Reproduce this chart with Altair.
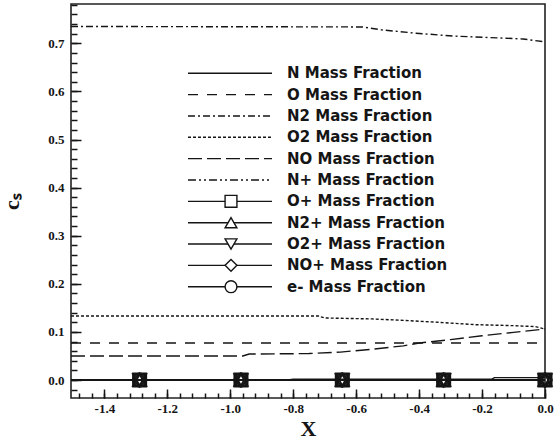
import altair as alt
import pandas as pd

# Axis ranges (data units)
X_DOMAIN = [-1.506, 0.0]
Y_DOMAIN = [-0.0374, 0.7817]

# Tick values
x_major = [-1.4, -1.2, -1.0, -0.8, -0.6, -0.4, -0.2, 0.0]
x_minor = [round(-1.48 + 0.04 * i, 2) for i in range(38)]
y_major = [0.0, 0.1, 0.2, 0.3, 0.4, 0.5, 0.6, 0.7]
y_minor = [round(-0.02 + 0.02 * i, 2) for i in range(41)]

# Species, in legend order
species = ["N", "O", "N2", "O2", "NO", "N+", "O+", "N2+", "O2+", "NO+", "e-"]
labels = [f"{s} Mass Fraction" for s in species]
dashes = [[1, 0], [10, 9], [7, 3, 2, 3], [3, 2], [14, 5], [8, 3, 2, 3, 2, 3],
          [1, 0], [1, 0], [1, 0], [1, 0], [1, 0]]
ions = ["O+", "N2+", "O2+", "NO+", "e-"]
ion_shapes = ["square", "triangle-up", "triangle-down", "diamond", "circle"]

# Mass fraction profiles along X
n_x = [-1.506, -0.82, -0.80, -0.17, -0.16, 0.0]
n_y = [0.0, 0.0, 0.0015, 0.0015, 0.005, 0.005]
o_x = [-1.506, 0.0]
o_y = [0.077, 0.077]
n2_x = [-1.506, -0.58, -0.52, -0.41, -0.29, -0.14, -0.07, 0.0]
n2_y = [0.735, 0.734, 0.728, 0.721, 0.715, 0.711, 0.709, 0.703]
o2_x = [-1.506, -0.72, -0.70, -0.55, -0.45, -0.34, -0.22, -0.10, -0.03, 0.0]
o2_y = [0.133, 0.133, 0.129, 0.127, 0.124, 0.120, 0.115, 0.113, 0.111, 0.106]
no_x = [-1.506, -0.96, -0.94, -0.75, -0.65, -0.55, -0.45, -0.40, -0.30, -0.20, -0.10, 0.0]
no_y = [0.050, 0.050, 0.054, 0.055, 0.058, 0.064, 0.071, 0.077, 0.084, 0.092, 0.099, 0.106]
nplus_x = [-1.506, 0.0]
nplus_y = [0.0, 0.0]
ion_line_x = [-1.506, 0.0]
ion_line_y = [0.0, 0.0]
ion_marker_x = [-1.288, -0.966, -0.644, -0.322, 0.0]
ion_marker_y = [0.0, 0.0, 0.0, 0.0, 0.0]

profiles = {
    "N": (n_x, n_y), "O": (o_x, o_y), "N2": (n2_x, n2_y), "O2": (o2_x, o2_y),
    "NO": (no_x, no_y), "N+": (nplus_x, nplus_y),
}
for ion in ions:
    profiles[ion] = (ion_line_x, ion_line_y)

line_rows = []
for name, (xs, ys) in profiles.items():
    for i, (xv, yv) in enumerate(zip(xs, ys)):
        line_rows.append({"species": name, "x": xv, "y": yv, "i": i})
lines_df = pd.DataFrame(line_rows)

marker_df = pd.DataFrame([
    {"species": ion, "x": xv, "y": yv}
    for ion in ions for xv, yv in zip(ion_marker_x, ion_marker_y)
])

legend_df = pd.DataFrame({"species": species, "label": labels, "row": list(range(len(species)))})
legend_ion_df = legend_df[legend_df["species"].isin(ions)]

INK = "#151515"
SERIF = "Liberation Serif"
SANS = "DejaVu Sans"

x_scale = alt.Scale(domain=X_DOMAIN, nice=False, zero=False)
y_scale = alt.Scale(domain=Y_DOMAIN, nice=False, zero=False)
dash_scale = alt.Scale(domain=species, range=dashes)
shape_scale = alt.Scale(domain=ions, range=ion_shapes)

label_fmt = "replace(format(datum.value, '.1f'), '\u2212', '-')"

x_label_axis = alt.Axis(
    orient="bottom", values=x_major, ticks=False, domain=False, grid=False,
    labelExpr=label_fmt, labelFont=SERIF, labelFontSize=13, labelFontWeight="bold",
    labelColor=INK, labelPadding=4, labelFlush=False,
    title="X", titleFont=SERIF, titleFontSize=22, titleFontWeight="bold", titleColor=INK,
    titleX=237, titleY=30, titleAlign="center", titleBaseline="middle",
)
y_label_axis = alt.Axis(
    orient="left", values=y_major, ticks=False, domain=False, grid=False,
    labelExpr=label_fmt, labelFont=SERIF, labelFontSize=13, labelFontWeight="bold",
    labelColor=INK, labelPadding=7, labelFlush=False,
    title="c\u209b", titleFont=SERIF, titleFontSize=22, titleFontWeight="bold", titleColor=INK,
    titleAngle=270, titleX=-60, titleY=197, titleAlign="center", titleBaseline="middle",
)


def tick_axis(orient, values, size):
    # ticks drawn inside the frame: pull the axis inward by its own tick length
    return alt.Axis(orient=orient, values=values, ticks=True, tickSize=size, offset=-size,
                    tickColor=INK, tickWidth=1.5, labels=False, domain=False, grid=False,
                    title="")


lines = alt.Chart(lines_df).mark_line(strokeWidth=1.4, color=INK).encode(
    x=alt.X("x:Q", scale=x_scale, axis=x_label_axis),
    y=alt.Y("y:Q", scale=y_scale, axis=y_label_axis),
    strokeDash=alt.StrokeDash("species:N", scale=dash_scale, legend=None),
    detail="species:N",
    order="i:Q",
)

markers = alt.Chart(marker_df).mark_point(
    filled=False, size=170, strokeWidth=2, color=INK, opacity=1
).encode(
    x=alt.X("x:Q", scale=x_scale, axis=tick_axis("bottom", x_major, 9)),
    y=alt.Y("y:Q", scale=y_scale, axis=tick_axis("left", y_major, 10)),
    shape=alt.Shape("species:N", scale=shape_scale, legend=None),
)

anchor = pd.DataFrame({"x": [X_DOMAIN[0]], "y": [Y_DOMAIN[0]]})
minor_ticks = alt.Chart(anchor).mark_point(opacity=0).encode(
    x=alt.X("x:Q", scale=x_scale, axis=tick_axis("bottom", x_minor, 5)),
    y=alt.Y("y:Q", scale=y_scale, axis=tick_axis("left", y_minor, 6)),
)

plot = alt.layer(lines, markers, minor_ticks).resolve_axis(x="independent", y="independent")

# Key inside the frame
row_scale = alt.Scale(domain=[0, 10], range=[69.3, 282.7])
key_lines = alt.Chart(legend_df).mark_rule(strokeWidth=1.4, color=INK).encode(
    x=alt.value(117), x2=alt.value(201),
    y=alt.Y("row:Q", scale=row_scale, axis=None),
    strokeDash=alt.StrokeDash("species:N", scale=dash_scale, legend=None),
)
key_marks = alt.Chart(legend_ion_df).mark_point(
    filled=True, fill="white", size=140, strokeWidth=1.4, color=INK, stroke=INK, opacity=1
).encode(
    x=alt.value(160),
    y=alt.Y("row:Q", scale=row_scale, axis=None),
    shape=alt.Shape("species:N", scale=shape_scale, legend=None),
)
key_text = alt.Chart(legend_df).mark_text(
    align="left", baseline="middle", font=SANS, fontSize=15, fontWeight="bold", color=INK
).encode(
    x=alt.value(216),
    y=alt.Y("row:Q", scale=row_scale, axis=None),
    text="label:N",
)
key = alt.layer(key_lines, key_marks, key_text)

chart = alt.layer(plot, key).resolve_scale(x="independent", y="independent").properties(
    width=474, height=394,
    padding={"left": 71, "top": 4, "right": 9, "bottom": 41},
    autosize=alt.AutoSizeParams(type="none"),
    background="white",
).configure_view(stroke="#222222", strokeWidth=1.6)

chart.save("out.html", embed_options={"renderer": "svg", "actions": False})
